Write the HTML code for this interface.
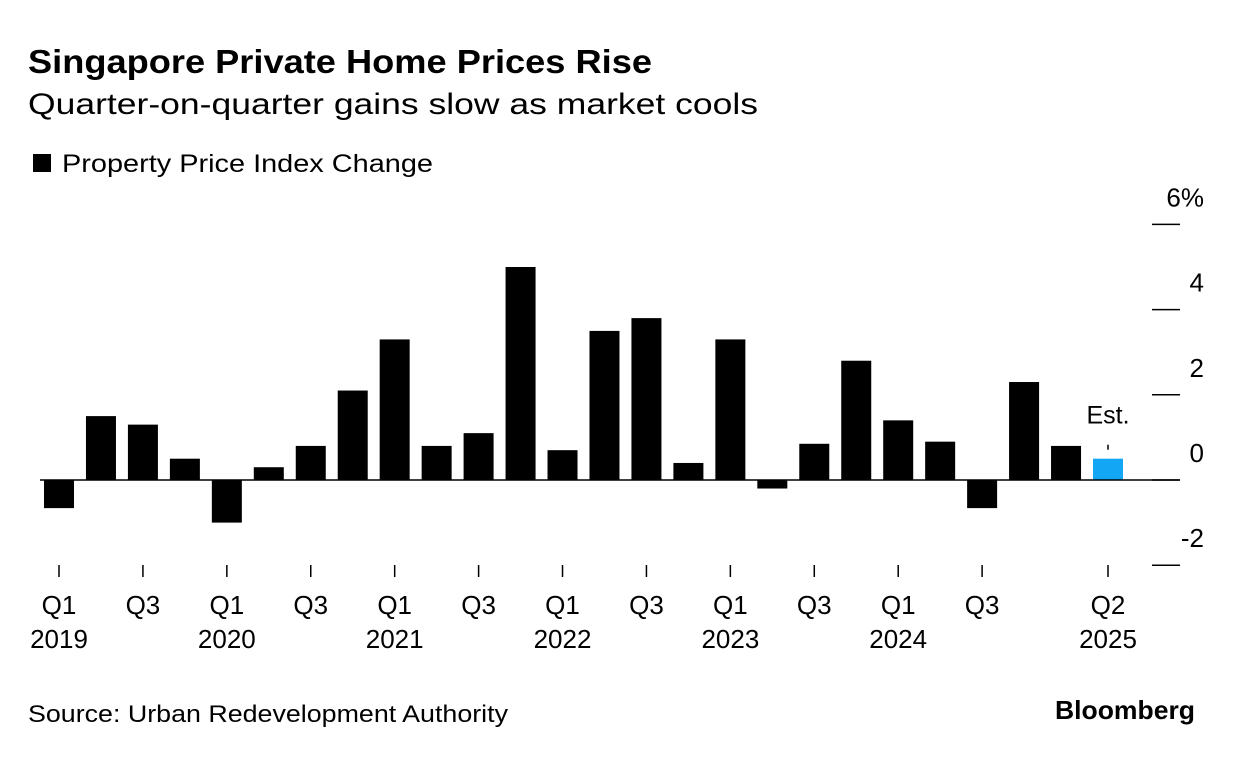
<!DOCTYPE html>
<html><head><meta charset="utf-8"><style>
body{margin:0;background:#fff;font-family:"Liberation Sans",sans-serif;}
</style></head><body>
<svg width="1233" height="754" xmlns="http://www.w3.org/2000/svg" font-family="Liberation Sans, sans-serif" id="chart">
<text x="28" y="73" font-size="33" font-weight="bold" fill="#000" textLength="624" lengthAdjust="spacingAndGlyphs">Singapore Private Home Prices Rise</text>
<text x="28" y="114" font-size="30" fill="#000" textLength="730" lengthAdjust="spacingAndGlyphs">Quarter-on-quarter gains slow as market cools</text>
<rect x="33" y="154" width="18" height="18" fill="#000"/>
<text x="62" y="172" font-size="25" fill="#000" textLength="371" lengthAdjust="spacingAndGlyphs">Property Price Index Change</text>
<g id="bars"></g>
<g id="yaxis"></g>
<g id="xaxis"></g>
<text x="28" y="722" font-size="24" fill="#000" textLength="480" lengthAdjust="spacingAndGlyphs">Source: Urban Redevelopment Authority</text>
<text x="1055" y="719" font-size="26" font-weight="bold" fill="#000" textLength="140" lengthAdjust="spacingAndGlyphs">Bloomberg</text>
</svg>
<script>
const values=[-0.66,1.5,1.3,0.5,-1.0,0.3,0.8,2.1,3.3,0.8,1.1,5.0,0.7,3.5,3.8,0.4,3.3,-0.2,0.85,2.8,1.4,0.9,-0.66,2.3,0.8,0.5];
const estimated=[false,false,false,false,false,false,false,false,false,false,false,false,false,false,false,false,false,false,false,false,false,false,false,false,false,true];
const yTicks=[6,4,2,0,-2];
const yTickLabels=["6%","4","2","0","-2"];
const xTickIdx=[0,2,4,6,8,10,12,14,16,18,20,22,25];
const xTickQ=["Q1","Q3","Q1","Q3","Q1","Q3","Q1","Q3","Q1","Q3","Q1","Q3","Q2"];
const xTickYear=["2019","","2020","","2021","","2022","","2023","","2024","","2025"];
const NS="http://www.w3.org/2000/svg";
const x=i=>59+i*(1108-59)/25;
const y=v=>480-v*42.6;
function mk(t,a,p){const e=document.createElementNS(NS,t);for(const k in a)e.setAttribute(k,a[k]);p.appendChild(e);return e;}
const gb=document.getElementById('bars');
values.forEach((v,i)=>{
 const r=mk('rect',{x:x(i)-15,y:Math.min(y(v),y(0)),width:30,height:Math.abs(y(v)-y(0)),fill:estimated[i]?'#12a6f5':'#000'},gb);
 
 
 if(estimated[i]){
  const t=mk('text',{x:x(i),y:y(v)-35,'font-size':25,'text-anchor':'middle'},gb);t.textContent='Est.';
  
  
  const l=mk('line',{x1:x(i),x2:x(i),y1:y(v)-14,y2:y(v)-9,stroke:'#000','stroke-width':1.5},gb);
  
  
 }
});
const zl=mk('line',{x1:40,x2:1180,y1:y(0),y2:y(0),stroke:'#000','stroke-width':1.5},gb);


const gy=document.getElementById('yaxis');
yTicks.forEach((v,i)=>{
 const l=mk('line',{x1:1152,x2:1180,y1:y(v),y2:y(v),stroke:'#000','stroke-width':1.5},gy);
 
 
 const t=mk('text',{x:1204,y:y(v)-18,'font-size':26,'text-anchor':'end'},gy);t.textContent=yTickLabels[i];
 
 
});
const gx=document.getElementById('xaxis');
xTickIdx.forEach((idx,i)=>{
 const l=mk('line',{x1:x(idx),x2:x(idx),y1:565,y2:577,stroke:'#000','stroke-width':1.5},gx);
 
 
 const t=mk('text',{x:x(idx),y:614,'font-size':26,'text-anchor':'middle'},gx);t.textContent=xTickQ[i];
 
 
 if(xTickYear[i]){const t2=mk('text',{x:x(idx),y:648,'font-size':26,'text-anchor':'middle'},gx);t2.textContent=xTickYear[i];
 
 }
});
</script>
</body></html>
